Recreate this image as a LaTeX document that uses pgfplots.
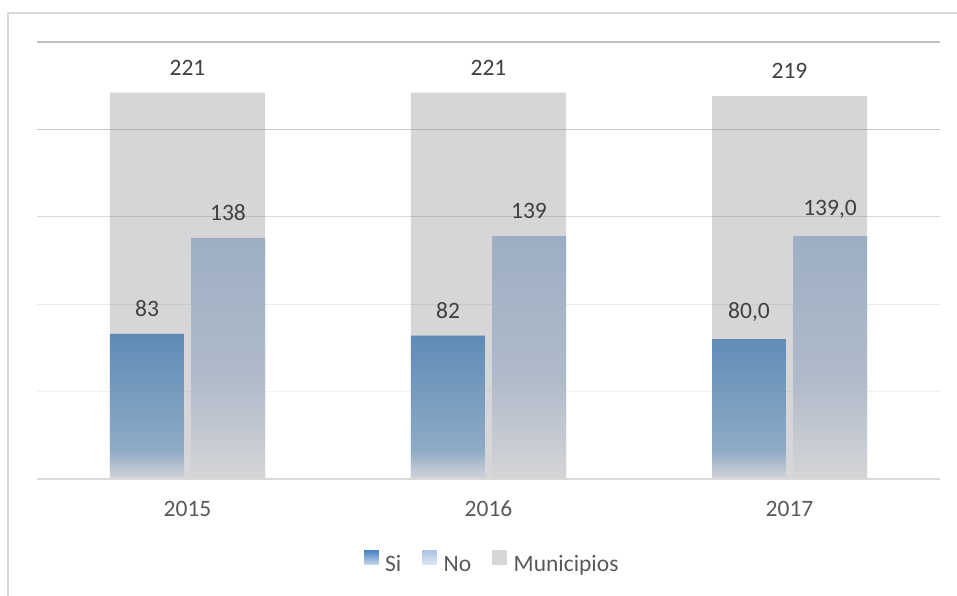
\documentclass[border=0pt]{standalone}
\usepackage{pgfplots}
\pgfplotsset{compat=1.18}
\usepackage{fontspec}
\setmainfont{Carlito}

\definecolor{muniCol}{HTML}{D6D5D7}
\definecolor{siTop}{HTML}{5E8BB6}
\definecolor{siMid}{HTML}{8EABC6}
\definecolor{siBot}{HTML}{D3D4D8}
\definecolor{noTop}{HTML}{9DAEC4}
\definecolor{noMid}{HTML}{B0BBCA}
\definecolor{noBot}{HTML}{D5D5D7}
\definecolor{siLegTop}{HTML}{4F85C4}
\definecolor{siLegBot}{HTML}{C2D3EA}
\definecolor{noLegTop}{HTML}{AFC4E4}
\definecolor{noLegBot}{HTML}{DCE5F2}
\definecolor{labelCol}{HTML}{404040}
\definecolor{tickCol}{HTML}{595959}
\definecolor{frameCol}{HTML}{D9D9D9}
\definecolor{gridCol}{HTML}{808080}

% bar gradients: the bar spans 25bp..75bp of the shading
\pgfdeclareverticalshading{siShade}{100bp}{color(0bp)=(siBot); color(25bp)=(siBot); color(35bp)=(siMid); color(75bp)=(siTop); color(100bp)=(siTop)}
\pgfdeclareverticalshading{noShade}{100bp}{color(0bp)=(noBot); color(25bp)=(noBot); color(45bp)=(noMid); color(75bp)=(noTop); color(100bp)=(noTop)}

\newcommand{\bigfont}{\fontsize{23.5}{28}\selectfont}
% legend square with a vertical gradient, drawn as thin strips
\newcommand{\gradsquare}[2]{%
  \foreach \i in {0,...,13}{%
    \pgfmathsetmacro{\p}{100*\i/13}%
    \fill[#1!\p!#2] (0pt,\i pt) rectangle (14pt,\i pt+1.1pt);}}

\begin{document}
\begin{tikzpicture}
\useasboundingbox (-37pt,-116pt) rectangle (920pt,479pt);
\draw[frameCol, line width=1.2pt] (-29pt,-140pt) -- (-29pt,466pt) -- (960pt,466pt);

\begin{axis}[
    scale only axis,
    width=903pt, height=437pt,
    xmin=-0.5, xmax=2.5,
    ymin=0, ymax=250,
    axis line style={draw=none},
    major tick length=0pt,
    ytick=\empty,
    xtick={0,1,2},
    xticklabels={2015,2016,2017},
    xticklabel style={font=\bigfont, text=tickCol, anchor=base, yshift=-37pt},
    clip=false,
    point meta=explicit symbolic,
    every node near coord/.append style={font=\bigfont, text=labelCol, inner sep=0pt, yshift=17pt},
    legend columns=3,
    legend style={at={(0.504,-0.192)}, anchor=center, draw=none, fill=none,
        font=\bigfont, text=tickCol,
        /tikz/every odd column/.append style={column sep=5pt},
        /tikz/every even column/.append style={column sep=19pt}},
]
% Municipios (background bars)
\addplot[ybar, bar width=0.515, bar shift=0, fill=muniCol, draw=none,
    nodes near coords, forget plot] coordinates {
    (0,221) [221]
    (1,221) [221]
    (2,219) [219]
};

% grid lines, lighter towards the bottom
\draw[gridCol, opacity=0.5, line width=1.3pt] (axis cs:-0.5,250) -- (axis cs:2.5,250);
\draw[gridCol, opacity=0.43, line width=1.3pt] (axis cs:-0.5,200) -- (axis cs:2.5,200);
\draw[gridCol, opacity=0.3, line width=1.3pt] (axis cs:-0.5,150) -- (axis cs:2.5,150);
\draw[gridCol, opacity=0.16, line width=1.3pt] (axis cs:-0.5,100) -- (axis cs:2.5,100);
\draw[gridCol, opacity=0.1, line width=1.3pt] (axis cs:-0.5,50) -- (axis cs:2.5,50);

% Si
\addplot[ybar, bar width=0.2458, bar shift=-0.1346, draw=none, shade, shading=siShade,
    nodes near coords, every node near coord/.append style={xshift=-40.5pt},
    forget plot] coordinates {
    (0,83) [83]
    (1,82) [82]
    (2,80) [{80,0}]
};
% No
\addplot[ybar, bar width=0.2458, bar shift=0.1346, draw=none, shade, shading=noShade,
    nodes near coords, every node near coord/.append style={xshift=40.5pt},
    forget plot] coordinates {
    (0,138) [138]
    (1,139) [139]
    (2,139) [{139,0}]
};

\draw[frameCol, line width=1.5pt] (axis cs:-0.5,0) -- (axis cs:2.5,0);

\addlegendimage{legend image code/.code={\gradsquare{siLegTop}{siLegBot}}}
\addlegendentry{Si}
\addlegendimage{legend image code/.code={\gradsquare{noLegTop}{noLegBot}}}
\addlegendentry{No}
\addlegendimage{legend image code/.code={\fill[muniCol] (0pt,0pt) rectangle (14pt,14pt);}}
\addlegendentry{Municipios}
\end{axis}
\end{tikzpicture}
\end{document}
